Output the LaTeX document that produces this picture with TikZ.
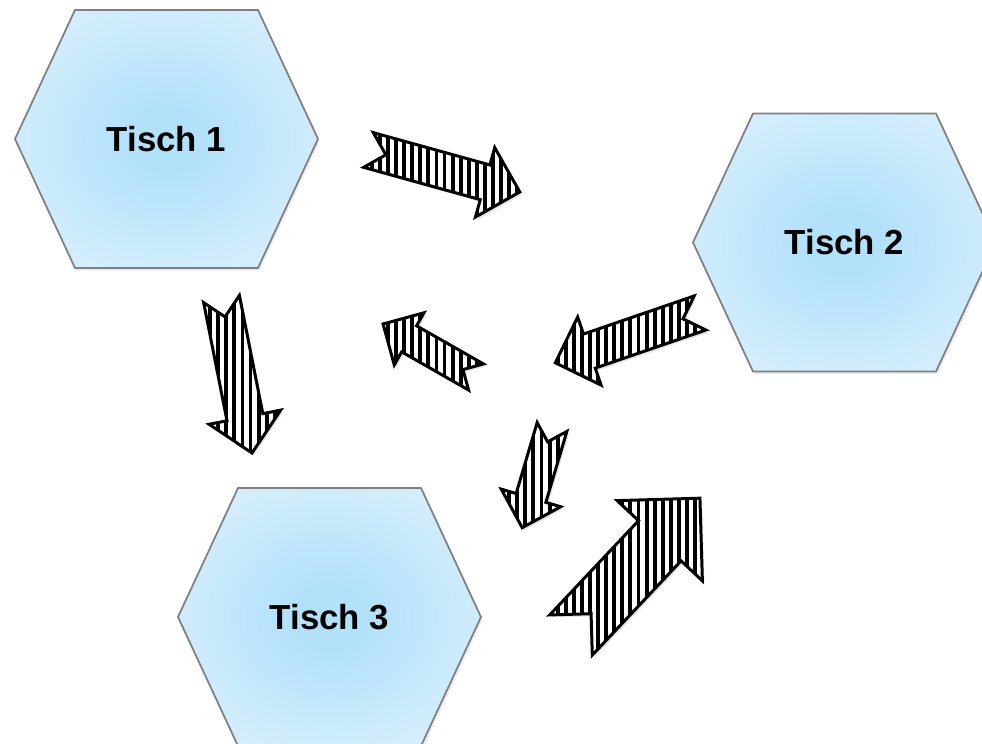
\documentclass[tikz,border=0pt]{standalone}
\usepackage{fontspec}
\setmainfont{Liberation Sans}
\usetikzlibrary{patterns.meta,shadows}

\definecolor{hexinner}{RGB}{178,225,250}
\definecolor{hexouter}{RGB}{222,241,253}
\definecolor{hexline}{RGB}{128,128,128}
\pgfdeclareradialshading{hexshade}{\pgfpoint{0bp}{0bp}}{color(0bp)=(hexinner); color(6bp)=(hexinner); color(34bp)=(hexouter); color(100bp)=(hexouter)}

\tikzset{
  tisch/.style={draw=hexline, line width=1pt, shading=hexshade,
    drop shadow={shadow xshift=1pt, shadow yshift=-1.5pt, opacity=0.15}},
  tischlabel/.style={font=\bfseries\fontsize{19.8}{24}\selectfont, text=black},
  hatcharrow/.style={draw=black, line width=1.7pt, line join=miter,
    drop shadow={shadow xshift=1.2pt, shadow yshift=-1.5pt, opacity=0.2},
    preaction={fill=white},
    pattern={Lines[angle=90,distance=4.6pt,line width=2.2pt]}},
  pics/notcharrow/.style n args={2}{code={
    \draw[hatcharrow] (0,#2/4) -- ({#1-#2/2},#2/4) -- ({#1-#2/2},#2/2) -- (#1,0)
      -- ({#1-#2/2},-#2/2) -- ({#1-#2/2},-#2/4) -- (0,-#2/4) -- (#2/4,0) -- cycle;
  }}
}

\begin{document}
\begin{tikzpicture}[x=0.02cm, y=0.02cm]
	  \useasboundingbox (0,0) rectangle (982,743);
	  \clip (0,0) rectangle (982,743);

	  \foreach \cx/\cy/\name/\txt in {166.5/604/t1/Tisch 1, 844.5/500.5/t2/Tisch 2, 329.5/126/t3/Tisch 3}{
	    \shadedraw[tisch] (\cx-151.5,\cy) -- ++(60,129) -- ++(183,0) -- ++(60,-129)
	      -- ++(-60,-129) -- ++(-183,0) -- cycle;
	    \node[tischlabel] (\name) at (\cx,\cy) {\txt};
	  }

	  \pic[rotate=-15.5] at (368.5,593) {notcharrow={157}{72}};
	  \pic[rotate=-78.8] at (221.5,444) {notcharrow={157}{73}};
	  \pic[rotate=150.3] at (476,366) {notcharrow={107}{60}};
	  \pic[rotate=199] at (700,430) {notcharrow={153}{72}};
	  \pic[rotate=253.5] at (552,316) {notcharrow={105}{62}};
	  \pic[rotate=46.7] at (571,108) {notcharrow={188}{117}};
	\end{tikzpicture}
\end{document}
